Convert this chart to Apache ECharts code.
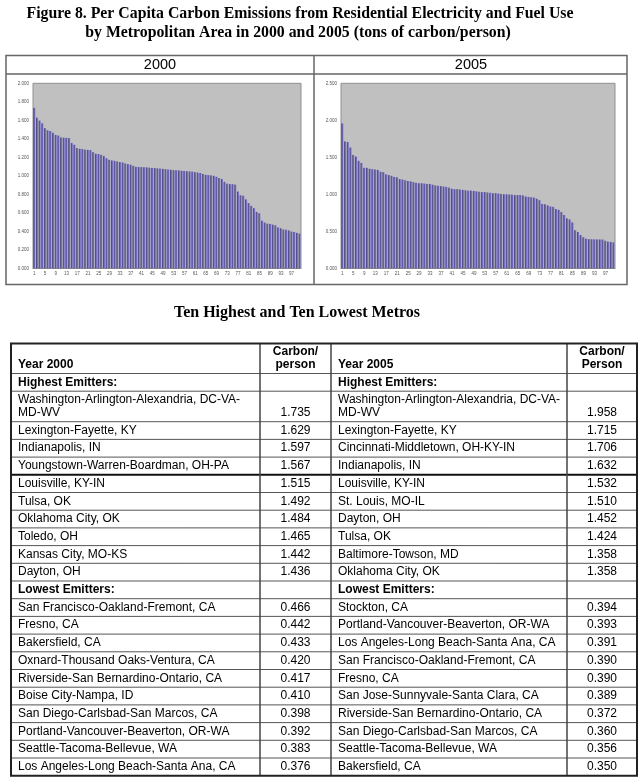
<!DOCTYPE html>
<html>
<head>
<meta charset="utf-8">
<script src="https://cdn.jsdelivr.net/npm/echarts@6/dist/echarts.min.js"></script>
<style>
  html, body { margin: 0; padding: 0; background: #fff; }
  #main { width: 642px; height: 778px; }
</style>
</head>
<body>
<div id="main"></div>
<script>
// bar ranks 1..100
var ranks = []
for (var r = 1; r <= 100; r++) ranks.push(String(r))

// per capita carbon, sorted high to low
var values2000 = [
  1.735, 1.629, 1.597, 1.567, 1.515, 1.492, 1.484, 1.465, 1.442, 1.436,
  1.415, 1.412, 1.41, 1.408, 1.354, 1.336, 1.30, 1.292, 1.29, 1.283,
  1.28, 1.278, 1.256, 1.238, 1.235, 1.227, 1.213, 1.19, 1.173, 1.166,
  1.162, 1.155, 1.148, 1.144, 1.134, 1.126, 1.12, 1.108, 1.097, 1.095,
  1.094, 1.093, 1.092, 1.088, 1.085, 1.083, 1.081, 1.078, 1.075, 1.072,
  1.068, 1.065, 1.062, 1.06, 1.058, 1.055, 1.052, 1.05, 1.048, 1.045,
  1.04, 1.035, 1.03, 1.02, 1.01, 1.008, 1.005, 1.0, 0.99, 0.975,
  0.965, 0.935, 0.915, 0.91, 0.91, 0.905, 0.83, 0.79, 0.785, 0.745,
  0.705, 0.675, 0.65, 0.61, 0.595, 0.515, 0.495, 0.483, 0.48, 0.472,
  0.466, 0.442, 0.433, 0.420, 0.417, 0.410, 0.398, 0.392, 0.383, 0.376
]
var values2005 = [
  1.958, 1.715, 1.706, 1.632, 1.532, 1.510, 1.452, 1.424, 1.358, 1.358,
  1.345, 1.34, 1.335, 1.33, 1.305, 1.30, 1.27, 1.26, 1.25, 1.235,
  1.23, 1.205, 1.20, 1.19, 1.18, 1.175, 1.165, 1.155, 1.15, 1.15,
  1.145, 1.14, 1.14, 1.13, 1.12, 1.115, 1.11, 1.105, 1.10, 1.09,
  1.075, 1.07, 1.07, 1.065, 1.06, 1.055, 1.05, 1.05, 1.045, 1.04,
  1.035, 1.03, 1.03, 1.025, 1.02, 1.015, 1.015, 1.01, 1.005, 1.0,
  1.0, 0.998, 0.995, 0.99, 0.99, 0.99, 0.985, 0.97, 0.965, 0.96,
  0.955, 0.94, 0.92, 0.87, 0.865, 0.85, 0.835, 0.83, 0.80, 0.79,
  0.76, 0.72, 0.675, 0.66, 0.62, 0.515, 0.49, 0.45, 0.42, 0.40,
  0.394, 0.393, 0.391, 0.390, 0.390, 0.389, 0.372, 0.360, 0.356, 0.350
]

// table: ten highest / ten lowest
var high2000 = ['Washington-Arlington-Alexandria, DC-VA-\nMD-WV', 'Lexington-Fayette, KY', 'Indianapolis, IN',
  'Youngstown-Warren-Boardman, OH-PA', 'Louisville, KY-IN', 'Tulsa, OK', 'Oklahoma City, OK', 'Toledo, OH',
  'Kansas City, MO-KS', 'Dayton, OH']
var high2000Val = [1.735, 1.629, 1.597, 1.567, 1.515, 1.492, 1.484, 1.465, 1.442, 1.436]
var low2000 = ['San Francisco-Oakland-Fremont, CA', 'Fresno, CA', 'Bakersfield, CA', 'Oxnard-Thousand Oaks-Ventura, CA',
  'Riverside-San Bernardino-Ontario, CA', 'Boise City-Nampa, ID', 'San Diego-Carlsbad-San Marcos, CA',
  'Portland-Vancouver-Beaverton, OR-WA', 'Seattle-Tacoma-Bellevue, WA', 'Los Angeles-Long Beach-Santa Ana, CA']
var low2000Val = [0.466, 0.442, 0.433, 0.420, 0.417, 0.410, 0.398, 0.392, 0.383, 0.376]
var high2005 = ['Washington-Arlington-Alexandria, DC-VA-\nMD-WV', 'Lexington-Fayette, KY', 'Cincinnati-Middletown, OH-KY-IN',
  'Indianapolis, IN', 'Louisville, KY-IN', 'St. Louis, MO-IL', 'Dayton, OH', 'Tulsa, OK',
  'Baltimore-Towson, MD', 'Oklahoma City, OK']
var high2005Val = [1.958, 1.715, 1.706, 1.632, 1.532, 1.510, 1.452, 1.424, 1.358, 1.358]
var low2005 = ['Stockton, CA', 'Portland-Vancouver-Beaverton, OR-WA', 'Los Angeles-Long Beach-Santa Ana, CA',
  'San Francisco-Oakland-Fremont, CA', 'Fresno, CA', 'San Jose-Sunnyvale-Santa Clara, CA',
  'Riverside-San Bernardino-Ontario, CA', 'San Diego-Carlsbad-San Marcos, CA', 'Seattle-Tacoma-Bellevue, WA',
  'Bakersfield, CA']
var low2005Val = [0.394, 0.393, 0.391, 0.390, 0.390, 0.389, 0.372, 0.360, 0.356, 0.350]

var myChart = echarts.init(document.getElementById('main'))

var SANS = '"Liberation Sans", Arial, sans-serif'
var SERIF = '"Liberation Serif", "Times New Roman", serif'

var barColor = new echarts.graphic.LinearGradient(0, 0, 1, 0, [
  { offset: 0, color: '#3e3a6a' },
  { offset: 0.45, color: '#615ba6' },
  { offset: 1, color: '#8d87d8' }
])

function text (s, x, y, font, align, valign, extra) {
  var st = { text: s, x: x, y: y, font: font, fill: '#000', textAlign: align, textVerticalAlign: valign }
  if (extra) for (var k in extra) st[k] = extra[k]
  return { type: 'text', silent: true, style: st }
}
function line (x1, y1, x2, y2, color, w) {
  return { type: 'line', silent: true, shape: { x1: x1, y1: y1, x2: x2, y2: y2 }, style: { stroke: color, lineWidth: w } }
}

var g = []
// titles
g.push(text('Figure 8. Per Capita Carbon Emissions from Residential Electricity and Fuel Use', 300, 14, 'bold 15.8px ' + SERIF, 'center', 'middle'))
g.push(text('by Metropolitan Area in 2000 and 2005 (tons of carbon/person)', 298, 33, 'bold 15.8px ' + SERIF, 'center', 'middle'))
g.push(text('Ten Highest and Ten Lowest Metros', 297, 313, 'bold 16px ' + SERIF, 'center', 'middle'))

// chart panel frame
g.push({ type: 'rect', silent: true, shape: { x: 6, y: 55.5, width: 621, height: 229 }, style: { fill: 'none', stroke: '#666', lineWidth: 1.5 } })
g.push(line(6, 74, 627, 74, '#666', 1.5))
g.push(line(314, 55.5, 314, 284.5, '#666', 1.5))
g.push(text('2000', 160, 65, '14.5px ' + SANS, 'center', 'middle'))
g.push(text('2005', 471, 65, '14.5px ' + SANS, 'center', 'middle'))

// table
var cols = [11, 260, 331, 567, 637]
var rows = []
rows.push({ h: 30, kind: 'head' })
rows.push({ h: 17.7, kind: 'section', label: 'Highest Emitters:' })
for (var i = 0; i < 10; i++) {
  rows.push({ h: i === 0 ? 30.5 : 17.7, kind: 'data', a: high2000[i], av: high2000Val[i], b: high2005[i], bv: high2005Val[i], thick: i === 3 })
}
rows.push({ h: 17.7, kind: 'section', label: 'Lowest Emitters:' })
for (var j = 0; j < 10; j++) {
  rows.push({ h: 17.7, kind: 'data', a: low2000[j], av: low2000Val[j], b: low2005[j], bv: low2005Val[j] })
}

var tTop = 343.5
var y = tTop
var cellFont = '12px ' + SANS
var boldFont = 'bold 12px ' + SANS
var lh = { lineHeight: 13 }
rows.forEach(function (row) {
  var bottom = y + row.h
  var ty = bottom - 2.5
  if (row.kind === 'head') {
    g.push(text('Year 2000', cols[0] + 7, ty, boldFont, 'left', 'bottom', lh))
    g.push(text('Carbon/\nperson', (cols[1] + cols[2]) / 2, ty, boldFont, 'center', 'bottom', lh))
    g.push(text('Year 2005', cols[2] + 7, ty, boldFont, 'left', 'bottom', lh))
    g.push(text('Carbon/\nPerson', (cols[3] + cols[4]) / 2, ty, boldFont, 'center', 'bottom', lh))
  } else if (row.kind === 'section') {
    g.push(text(row.label, cols[0] + 7, ty, boldFont, 'left', 'bottom', lh))
    g.push(text(row.label, cols[2] + 7, ty, boldFont, 'left', 'bottom', lh))
  } else {
    g.push(text(row.a, cols[0] + 7, ty, cellFont, 'left', 'bottom', lh))
    g.push(text(row.av.toFixed(3), (cols[1] + cols[2]) / 2, ty, cellFont, 'center', 'bottom', lh))
    g.push(text(row.b, cols[2] + 7, ty, cellFont, 'left', 'bottom', lh))
    g.push(text(row.bv.toFixed(3), (cols[3] + cols[4]) / 2, ty, cellFont, 'center', 'bottom', lh))
  }
  if (bottom < tTop + 420) {
    g.push(line(cols[0], bottom, cols[4], bottom, row.thick ? '#111' : '#555', row.thick ? 2 : 1))
  }
  y = bottom
})
var tBottom = y
for (var c = 1; c < 4; c++) g.push(line(cols[c], tTop, cols[c], tBottom, '#444', 1.5))
g.push({ type: 'rect', silent: true, shape: { x: cols[0], y: tTop, width: cols[4] - cols[0], height: tBottom - tTop }, style: { fill: 'none', stroke: '#222', lineWidth: 2 } })

function xAxisFor (idx) {
  return {
    type: 'category',
    gridIndex: idx,
    data: ranks,
    axisLine: { lineStyle: { color: '#888', width: 1 } },
    axisTick: { show: false },
    axisLabel: { interval: 3, fontSize: 4.5, color: '#555', margin: 3, fontFamily: SANS }
  }
}
function yAxisFor (idx, max, step) {
  return {
    type: 'value',
    gridIndex: idx,
    min: 0,
    max: max,
    interval: step,
    axisLine: { show: false },
    axisTick: { show: false },
    splitLine: { show: false },
    axisLabel: { fontSize: 4.5, color: '#555', margin: 4, fontFamily: SANS, formatter: function (v) { return v.toFixed(3) } }
  }
}
function barsFor (idx, data) {
  return {
    type: 'bar',
    xAxisIndex: idx,
    yAxisIndex: idx,
    data: data,
    barCategoryGap: '24%',
    itemStyle: { color: barColor },
    silent: true,
    animation: false
  }
}

myChart.setOption({
  animation: false,
  grid: [
    { left: 33, top: 83.3, width: 268, height: 185, show: true, backgroundColor: '#c0c0c0', borderColor: '#909090', borderWidth: 1 },
    { left: 341, top: 83.3, width: 274, height: 185, show: true, backgroundColor: '#c0c0c0', borderColor: '#909090', borderWidth: 1 }
  ],
  xAxis: [xAxisFor(0), xAxisFor(1)],
  yAxis: [yAxisFor(0, 2, 0.2), yAxisFor(1, 2.5, 0.5)],
  series: [barsFor(0, values2000), barsFor(1, values2005)],
  graphic: g
})
</script>
</body>
</html>
